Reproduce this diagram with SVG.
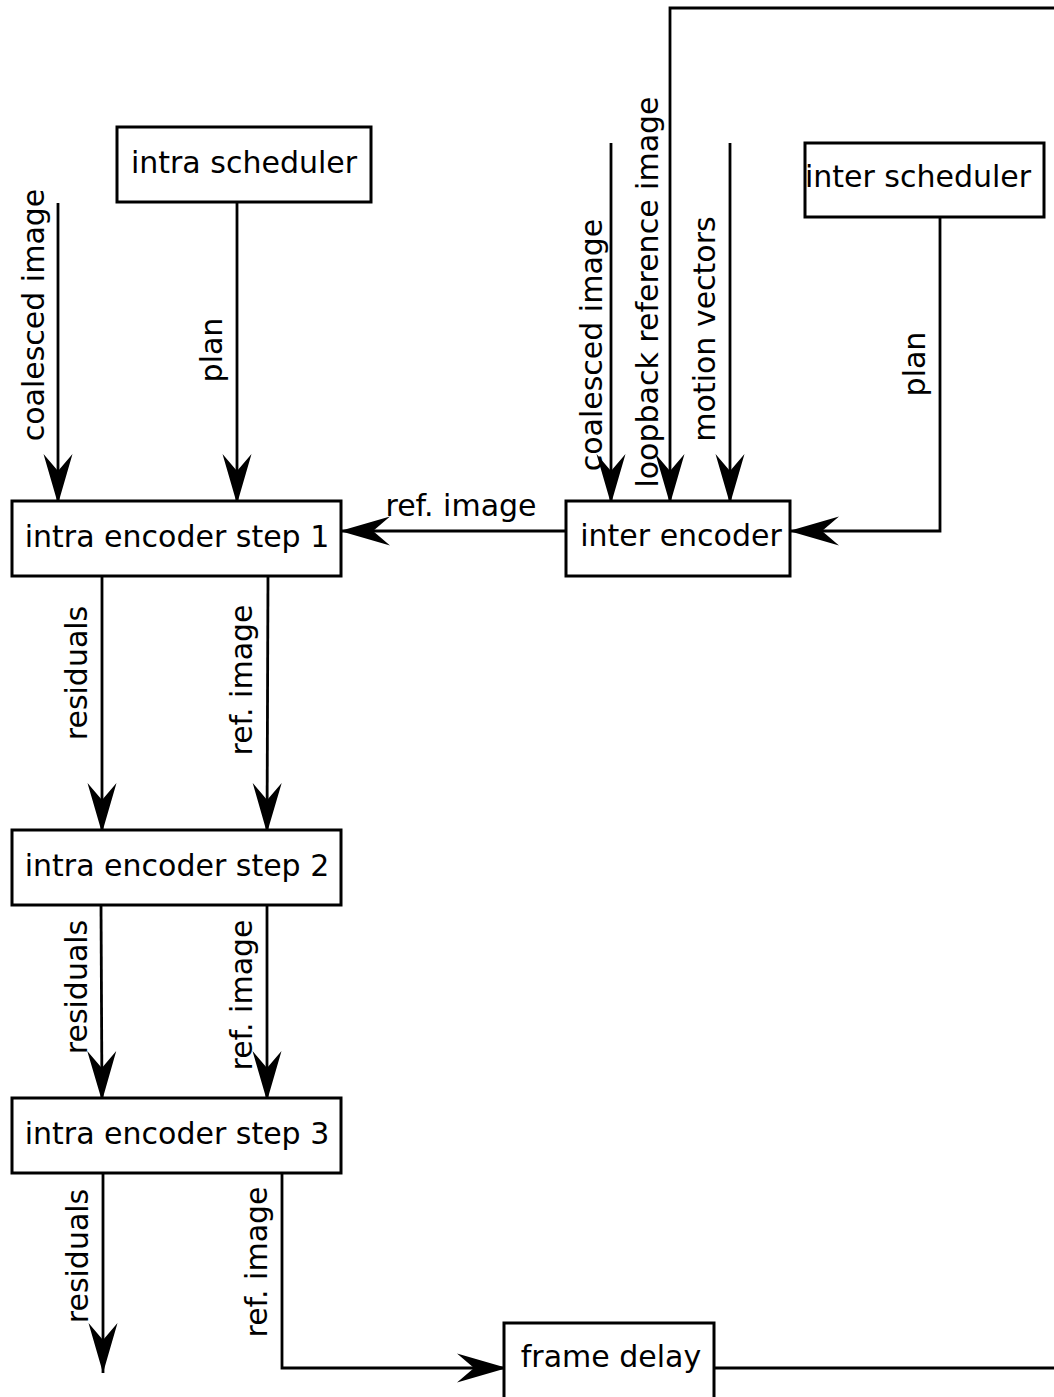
<svg xmlns="http://www.w3.org/2000/svg" width="1054" height="1397" viewBox="0 0 1054 1397">
  <style>
    .box { fill: #fff; stroke: #000; stroke-width: 3; }
    .lbl { font-family: "DejaVu Sans", "Liberation Sans", sans-serif; font-size: 30px; fill: #000; }
    .mid { text-anchor: middle; }
    .wire { fill: none; stroke: #000; stroke-width: 2.8; }
    .arrow { marker-end: url(#head); }
  </style>
  <defs>
    <!-- barbed arrowhead, tip at the path end -->
    <marker id="head" markerUnits="userSpaceOnUse" orient="auto" refX="0" refY="0" markerWidth="60" markerHeight="40" overflow="visible">
      <path d="M0,0 L-50,-14.5 L-33,0 L-50,14.5 Z" fill="#000"/>
    </marker>
  </defs>

  <rect width="1054" height="1397" fill="#fff"/>

  <!-- connectors -->
  <g id="connectors">
    <path class="wire arrow" d="M58,203 V504"/>
    <path class="wire arrow" d="M237,203 V504"/>
    <path class="wire arrow" d="M566,531 H340"/>
    <path class="wire arrow" d="M611,143 V504"/>
    <path class="wire arrow" d="M1054,8 H670 V504"/>
    <path class="wire arrow" d="M730,143 V504"/>
    <path class="wire arrow" d="M940,217 V531 H789"/>
    <path class="wire arrow" d="M102,576 V833"/>
    <path class="wire arrow" d="M268,576 L267,833"/>
    <path class="wire arrow" d="M101,905 L102,1101"/>
    <path class="wire arrow" d="M267,905 V1101"/>
    <path class="wire arrow" d="M103,1173 V1373"/>
    <path class="wire arrow" d="M282,1173 V1368 H507"/>
    <path class="wire" d="M714,1368 H1054"/>

    <text class="lbl mid" transform="translate(44,315) rotate(-90)">coalesced image</text>
    <text class="lbl mid" transform="translate(222,350) rotate(-90)">plan</text>
    <text class="lbl mid" x="461" y="516">ref. image</text>
    <text class="lbl mid" transform="translate(602,345) rotate(-90)">coalesced image</text>
    <text class="lbl mid" transform="translate(658,292) rotate(-90)">loopback reference image</text>
    <text class="lbl mid" transform="translate(715,329) rotate(-90)">motion vectors</text>
    <text class="lbl mid" transform="translate(925,364) rotate(-90)">plan</text>
    <text class="lbl mid" transform="translate(87,673) rotate(-90)">residuals</text>
    <text class="lbl mid" transform="translate(252,680) rotate(-90)">ref. image</text>
    <text class="lbl mid" transform="translate(87,987) rotate(-90)">residuals</text>
    <text class="lbl mid" transform="translate(252,995) rotate(-90)">ref. image</text>
    <text class="lbl mid" transform="translate(88,1256) rotate(-90)">residuals</text>
    <text class="lbl mid" transform="translate(267,1262) rotate(-90)">ref. image</text>
  </g>

  <!-- nodes -->
  <g id="intra-scheduler">
    <rect class="box" x="117" y="127" width="254" height="75"/>
    <text class="lbl mid" x="244" y="173">intra scheduler</text>
  </g>
  <g id="inter-scheduler">
    <rect class="box" x="805" y="143" width="239" height="74"/>
    <text class="lbl mid" x="918" y="187">inter scheduler</text>
  </g>
  <g id="intra-encoder-1">
    <rect class="box" x="12" y="501" width="329" height="75"/>
    <text class="lbl mid" x="177" y="547">intra encoder step 1</text>
  </g>
  <g id="inter-encoder">
    <rect class="box" x="566" y="501" width="224" height="75"/>
    <text class="lbl mid" x="681" y="546">inter encoder</text>
  </g>
  <g id="intra-encoder-2">
    <rect class="box" x="12" y="830" width="329" height="75"/>
    <text class="lbl mid" x="177" y="876">intra encoder step 2</text>
  </g>
  <g id="intra-encoder-3">
    <rect class="box" x="12" y="1098" width="329" height="75"/>
    <text class="lbl mid" x="177" y="1144">intra encoder step 3</text>
  </g>
  <g id="frame-delay">
    <rect class="box" x="504" y="1323" width="210" height="90"/>
    <text class="lbl mid" x="611" y="1367">frame delay</text>
  </g>
</svg>
